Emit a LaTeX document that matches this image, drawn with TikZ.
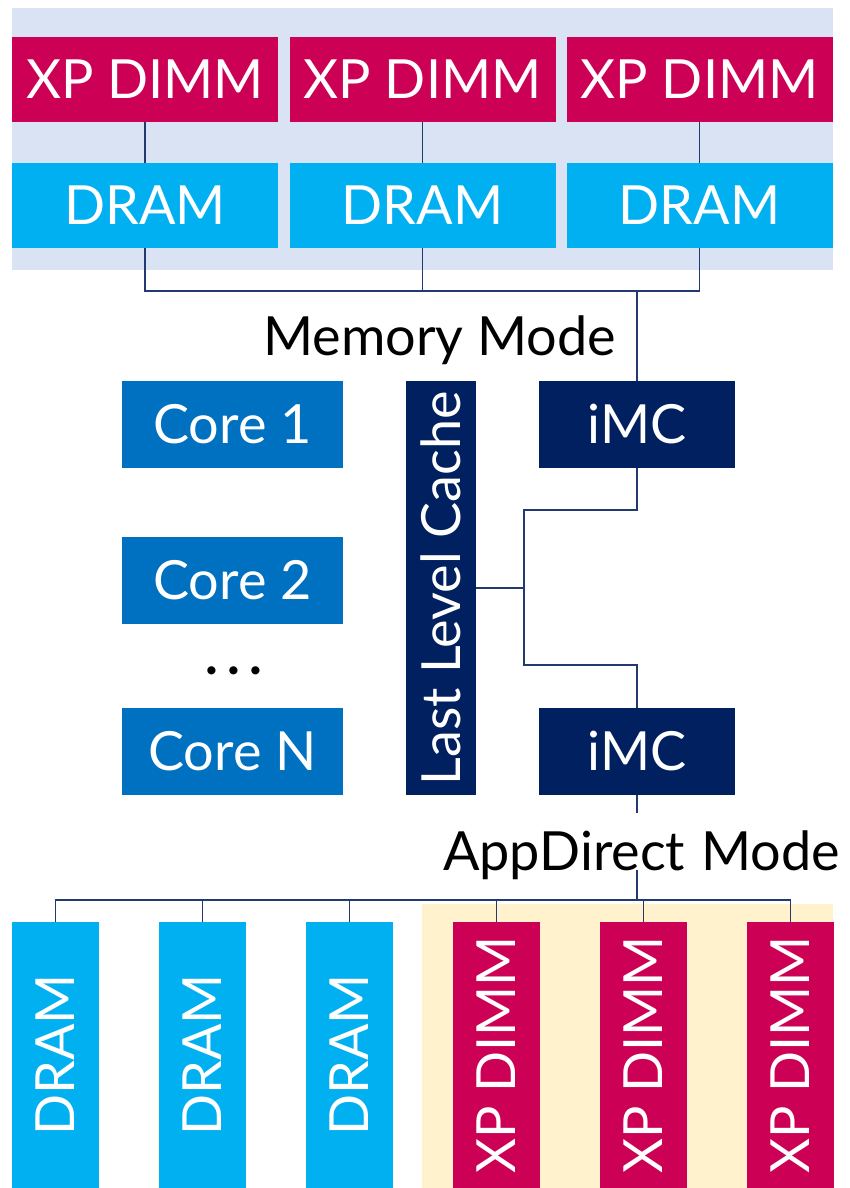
\documentclass[tikz,border=0pt]{standalone}
\usepackage{fontspec}
\setmainfont{Lato}
\definecolor{xpred}{HTML}{CC0055}
\definecolor{dramblue}{HTML}{00B0F0}
\definecolor{coreblue}{HTML}{0070C0}
\definecolor{navy}{HTML}{002060}
\definecolor{topbg}{HTML}{DAE3F3}
\definecolor{creambg}{HTML}{FFF2CC}
\definecolor{wirecol}{HTML}{223A70}
\tikzset{
  blk/.style={inner sep=0pt, outer sep=0pt, text=white,
    font=\fontsize{54}{60}\selectfont},
  xpbox/.style={blk, fill=xpred},
  drambox/.style={blk, fill=dramblue},
  corebox/.style={blk, fill=coreblue, minimum width=221pt, minimum height=87pt},
  navybox/.style={blk, fill=navy},
  hwide/.style={minimum width=266pt, minimum height=85pt},
  vtall/.style={minimum width=266pt, minimum height=87pt, rotate=90},
  wire/.style={draw=wirecol, line width=1.2pt},
  label/.style={inner sep=0pt, font=\fontsize{54}{60}\selectfont}
}
\begin{document}
\begin{tikzpicture}[x=1pt, y=-1pt]
\useasboundingbox (0,0) rectangle (849,1188);

% backgrounds of the two module groups
\fill[topbg] (12,8) rectangle (833,270);
\fill[creambg] (422,904) rectangle (833,1188);

% Memory Mode group: XP DIMMs backed by DRAM caches
\node[xpbox, hwide] (tx1) at (145,79.5) {XP DIMM};
\node[xpbox, hwide] (tx2) at (422.5,79.5) {XP DIMM};
\node[xpbox, hwide] (tx3) at (699.5,79.5) {XP DIMM};
\node[drambox, hwide] (td1) at (145,205.5) {DRAM};
\node[drambox, hwide] (td2) at (422.5,205.5) {DRAM};
\node[drambox, hwide] (td3) at (699.5,205.5) {DRAM};

\node[label, anchor=base west] (mm) at (263,355) {Memory Mode};

% processor
\node[corebox] (c1) at (232.5,424.5) {Core 1};
\node[corebox] (c2) at (232.5,580) {Core 2};
\node[corebox] (cn) at (232.5,751.5) {Core N};
\node[label, anchor=base] (dots) at (234,674) {\textbf{.\hspace{9pt}.\hspace{9pt}.}};
\node[navybox, minimum width=414pt, minimum height=70pt, rotate=90] (llc) at (441,588) {Last Level Cache};
\node[navybox, minimum width=196pt, minimum height=87pt] (imc1) at (637,424.5) {iMC};
\node[navybox, minimum width=196pt, minimum height=87pt] (imc2) at (637,751.5) {iMC};

\node[label, anchor=base west] (ad) at (443,870) {AppDirect\hspace{2pt} Mode};

% AppDirect group: DRAM and XP DIMMs side by side
\node[drambox, vtall] (bd1) at (55.5,1055) {DRAM};
\node[drambox, vtall] (bd2) at (202.5,1055) {DRAM};
\node[drambox, vtall] (bd3) at (349.5,1055) {DRAM};
\node[xpbox, vtall] (bx1) at (496.5,1055) {XP DIMM};
\node[xpbox, vtall] (bx2) at (643.5,1055) {XP DIMM};
\node[xpbox, vtall] (bx3) at (790.5,1055) {XP DIMM};

% junction points
\coordinate (mbus) at (637,291);
\coordinate (ja) at (524,510);
\coordinate (jb) at (524,665);
\coordinate (adtop) at (637,813);
\coordinate (abus) at (637,900);

% Memory Mode wiring
\draw[wire] (tx1.south) -- (td1.north);
\draw[wire] (tx2.south) -- (td2.north);
\draw[wire] (tx3.south) -- (td3.north);
\draw[wire] (td1.south) |- (mbus);
\draw[wire] (td3.south) |- (mbus);
\draw[wire] (td2.south) -- (td2.south |- mbus);
\draw[wire] (mbus) -- (imc1.north);

% cache to memory controllers
\draw[wire] (imc1.south) |- (ja) -- (jb) -| (imc2.north);
\draw[wire] (llc.south) -- (llc.south -| ja);

% AppDirect wiring
\draw[wire] (imc2.south) -- (adtop);
\draw[wire] (abus |- ad.base) -- (abus);
\draw[wire] (bd1.east) |- (abus) -| (bx3.east);
\draw[wire] (bd2.east) -- (bd2.east |- abus);
\draw[wire] (bd3.east) -- (bd3.east |- abus);
\draw[wire] (bx1.east) -- (bx1.east |- abus);
\draw[wire] (bx2.east) -- (bx2.east |- abus);
\end{tikzpicture}
\end{document}
